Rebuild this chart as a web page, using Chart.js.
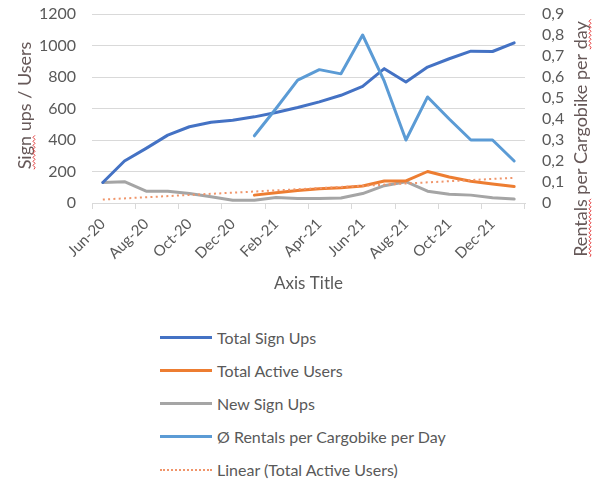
<!DOCTYPE html>
<html>
<head>
<meta charset="utf-8">
<script src="https://cdn.jsdelivr.net/npm/chart.js@4.4.1/dist/chart.umd.min.js"></script>
<style>
  body { margin: 0; background: #fff; font-family: Lato, sans-serif; }
  #wrap { position: relative; width: 594px; height: 481px; background: #fff; }
  #box { position: absolute; left: 0; top: 0; width: 594px; height: 294px; }
  #legend { position: absolute; left: 160px; top: 321px; color: #595959; font-size: 16px; }
  #legend .item { display: flex; align-items: center; height: 33px; }
  #legend .swatch { width: 52px; margin-right: 5px; }
</style>
</head>
<body>
<div id="wrap">
  <div id="box"><canvas id="chart"></canvas></div>
  <div id="legend"></div>
</div>
<script>
// data
const months = ['Jun-20', 'Jul-20', 'Aug-20', 'Sep-20', 'Oct-20', 'Nov-20', 'Dec-20',
  'Jan-21', 'Feb-21', 'Mar-21', 'Apr-21', 'May-21', 'Jun-21', 'Jul-21', 'Aug-21',
  'Sep-21', 'Oct-21', 'Nov-21', 'Dec-21', 'Jan-22'];
const totalSignUps = [130, 267, 347, 431, 484, 513, 526, 547, 575, 606, 642, 684, 741, 853, 768, 863, 916, 964, 962, 1017];
const totalActiveUsers = [null, null, null, null, null, null, null, 50, 65, 80, 90, 97, 108, 140, 140, 200, 165, 138, 120, 105];
const newSignUps = [130, 135, 75, 75, 60, 40, 18, 17, 35, 28, 28, 32, 60, 110, 135, 75, 55, 50, 33, 25];
const rentalsPerBike = [null, null, null, null, null, null, null, 0.32, 0.45, 0.585, 0.635, 0.615, 0.80, 0.58, 0.30, 0.505, 0.40, 0.30, 0.30, 0.20];
// trendline end points as drawn
const activeUsersTrend = [22, null, null, null, null, null, null, null, null, null, null, null, null, null, null, null, null, null, null, 160];

const grey = '#595959';
const titleColor = '#665858';
Chart.defaults.font.family = 'Lato';
Chart.defaults.color = grey;

function squiggle(ctx, x0, x1, y) {
  ctx.beginPath();
  ctx.moveTo(x0, y);
  let k = 0;
  for (let x = x0; x < x1; x += 2, k++) {
    ctx.lineTo(x + 2, y + (k % 2 ? -1 : 1));
  }
  ctx.strokeStyle = '#e23a3a';
  ctx.lineWidth = 1;
  ctx.stroke();
}

function sideTitle(ctx, text, cx, cy, marked) {
  ctx.save();
  ctx.translate(cx, cy);
  ctx.rotate(-Math.PI / 2);
  ctx.font = '18px Lato';
  ctx.fillStyle = titleColor;
  ctx.textAlign = 'left';
  ctx.textBaseline = 'middle';
  const w = ctx.measureText(text).width;
  const x0 = -w / 2;
  ctx.fillText(text, x0, 0);
  marked.forEach(word => {
    const i = text.indexOf(word);
    const s = x0 + ctx.measureText(text.slice(0, i)).width;
    squiggle(ctx, s, s + ctx.measureText(word).width, 9);
  });
  ctx.restore();
}

const sideTitles = {
  id: 'sideTitles',
  afterDraw(chart) {
    const a = chart.chartArea;
    sideTitle(chart.ctx, 'Sign ups / Users', 25, (a.top + a.bottom) / 2 - 3, ['Sign']);
    sideTitle(chart.ctx, 'Rentals per Cargobike per day', 581, 139, ['Rentals', 'day']);
  }
};

const lineStyle = { borderWidth: 3, pointRadius: 0, tension: 0, borderJoinStyle: 'round', borderCapStyle: 'round' };

const chart = new Chart(document.getElementById('chart'), {
  type: 'line',
  data: {
    labels: months,
    datasets: [
      { label: 'Linear (Total Active Users)', data: activeUsersTrend, yAxisID: 'y', borderColor: '#f0956a',
        borderWidth: 2, borderDash: [2, 3.3], pointRadius: 0, spanGaps: true, dotted: true },
      { label: 'Ø Rentals per Cargobike per Day', data: rentalsPerBike, yAxisID: 'y2', borderColor: '#5b9bd5', ...lineStyle },
      { label: 'Total Sign Ups', data: totalSignUps, yAxisID: 'y', borderColor: '#4472c4', ...lineStyle },
      { label: 'Total Active Users', data: totalActiveUsers, yAxisID: 'y', borderColor: '#ed7d31', ...lineStyle },
      { label: 'New Sign Ups', data: newSignUps, yAxisID: 'y', borderColor: '#a5a5a5', ...lineStyle }
    ]
  },
  options: {
    responsive: true,
    maintainAspectRatio: false,
    animation: false,
    layout: { padding: { top: 14, left: 0, right: 0, bottom: 0 } },
    plugins: { legend: { display: false }, tooltip: { enabled: false } },
    scales: {
      x: {
        offset: true,
        grid: {
          offset: true,
          drawOnChartArea: false,
          tickLength: 6,
          color: c => (c.index === undefined || c.index % 2 === 0) ? '#d9d9d9' : 'rgba(0,0,0,0)'
        },
        border: { color: '#d9d9d9' },
        ticks: {
          autoSkip: false, minRotation: 45, maxRotation: 45, padding: 6,
          font: { size: 15 },
          callback: function (v, i) { return i % 2 === 0 ? this.getLabelForValue(v) : ''; }
        },
        title: { display: true, text: 'Axis Title', font: { size: 17 }, padding: { top: 0, bottom: 0 } },
        afterFit: s => { s.height = 91; }
      },
      y: {
        position: 'left',
        min: 0, max: 1200,
        grid: { color: '#d9d9d9', drawTicks: false },
        border: { display: false },
        ticks: { stepSize: 200, padding: 16, autoSkip: false, font: { size: 16 }, callback: v => String(v) },
        afterFit: s => { s.width = 92; s.paddingTop = 0; s.paddingBottom = 0; }
      },
      y2: {
        position: 'right',
        min: 0, max: 0.9,
        grid: { display: false, drawTicks: false },
        border: { display: false },
        ticks: {
          stepSize: 0.1, padding: 17, autoSkip: false, font: { size: 16 },
          callback: v => v === 0 ? '0' : v.toFixed(1).replace('.', ',')
        },
        afterFit: s => { s.width = 69; s.paddingTop = 0; s.paddingBottom = 0; }
      }
    }
  },
  plugins: [sideTitles]
});

// legend in Excel order, one item per row
const legendOrder = ['Total Sign Ups', 'Total Active Users', 'New Sign Ups', 'Ø Rentals per Cargobike per Day', 'Linear (Total Active Users)'];
const legend = document.getElementById('legend');
legendOrder.forEach(name => {
  const ds = chart.data.datasets.find(d => d.label === name);
  const row = document.createElement('div');
  row.className = 'item';
  const sw = document.createElement('div');
  sw.className = 'swatch';
  sw.style.borderTop = ds.dotted ? '2px dotted ' + ds.borderColor : '3px solid ' + ds.borderColor;
  const txt = document.createElement('span');
  txt.textContent = name;
  row.appendChild(sw);
  row.appendChild(txt);
  legend.appendChild(row);
});
</script>
</body>
</html>
